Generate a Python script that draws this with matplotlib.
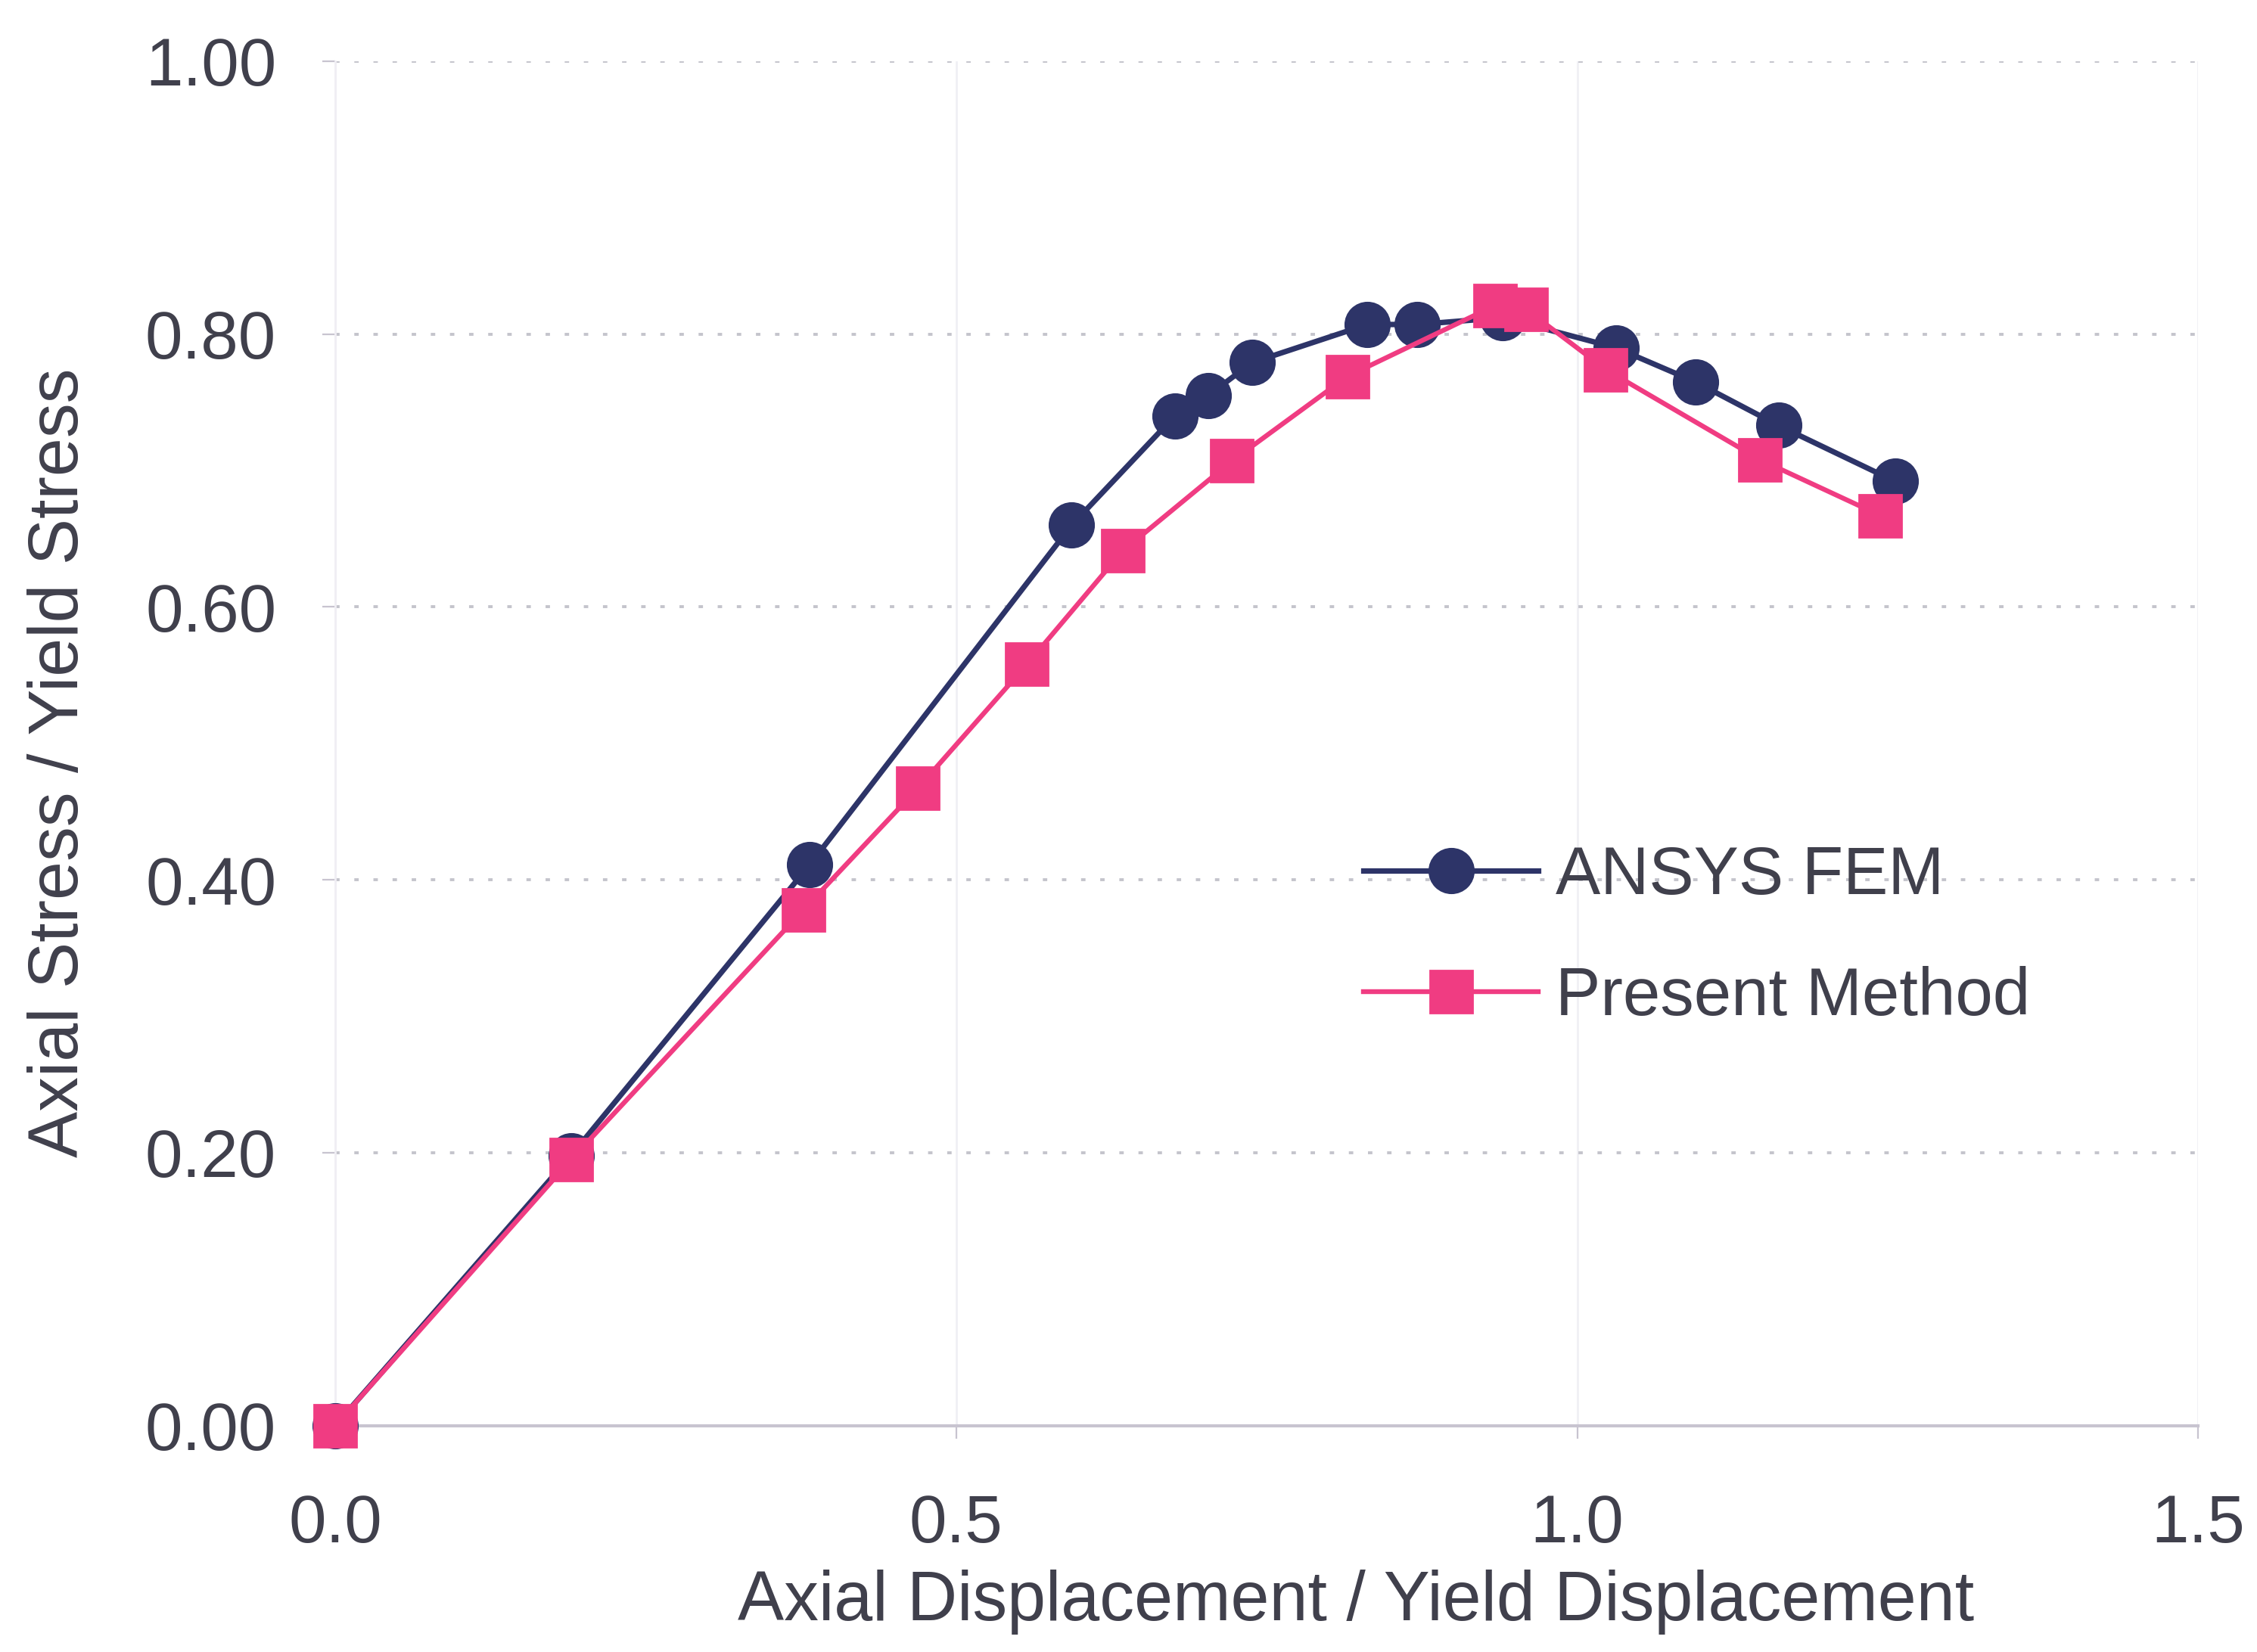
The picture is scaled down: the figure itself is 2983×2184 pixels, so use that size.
import matplotlib.pyplot as plt
import numpy as np

plt.rcParams['font.family'] = ['Liberation Sans', 'DejaVu Sans']

# ANSYS FEM
ansys_x = [0.0, 0.190, 0.382, 0.593, 0.676, 0.703, 0.738, 0.831, 0.871, 0.940, 1.031, 1.095, 1.162, 1.256]
ansys_y = [0.0, 0.198, 0.411, 0.660, 0.740, 0.755, 0.779, 0.807, 0.807, 0.812, 0.790, 0.765, 0.733, 0.692]

# Present Method
pm_x = [0.0, 0.190, 0.377, 0.469, 0.557, 0.634, 0.722, 0.815, 0.934, 0.959, 1.023, 1.147, 1.244]
pm_y = [0.0, 0.195, 0.378, 0.467, 0.558, 0.641, 0.707, 0.769, 0.821, 0.818, 0.774, 0.708, 0.667]

x_ticks = [0.0, 0.5, 1.0, 1.5]
y_ticks = [0.0, 0.2, 0.4, 0.6, 0.8, 1.0]

txt = '#40404c'
blue = '#2d3468'
pink = '#f03c82'

fig = plt.figure(figsize=(14.915, 10.92), dpi=200)
ax = fig.add_axes([0.1485, 0.137, 0.8255, 0.826])

ax.plot(ansys_x, ansys_y, color=blue, lw=2.6, marker='o', ms=21, label='ANSYS FEM',
        zorder=3, clip_on=False)
ax.plot(pm_x, pm_y, color=pink, lw=2.3, marker='s', ms=20, label='Present Method',
        zorder=4, clip_on=False)

ax.set_xlim(0, 1.5)
ax.set_ylim(0, 1.0)
ax.set_xticks(x_ticks)
ax.set_yticks(y_ticks)
ax.set_xticklabels([f'{v:.1f}' for v in x_ticks])
ax.set_yticklabels([f'{v:.2f}' for v in y_ticks])

for s in ['top', 'right']:
    ax.spines[s].set_visible(False)
ax.spines['bottom'].set_color('#c8c4d0')
ax.spines['bottom'].set_linewidth(1.5)
ax.spines['left'].set_color('#f0eef4')
ax.spines['left'].set_linewidth(1.0)

ax.yaxis.grid(True, color='#c4c4cc', linestyle=(0, (1.5, 5)), linewidth=1.4)
ax.xaxis.grid(True, color='#f0f0f4', linestyle='-', linewidth=1.0)
ax.set_axisbelow(True)

ax.tick_params(axis='both', length=6, color='#c8c4d0', labelsize=32, labelcolor=txt)
ax.tick_params(axis='x', pad=26)
ax.tick_params(axis='y', pad=22)

ax.set_xlabel('Axial Displacement / Yield Displacement', fontsize=33, color=txt, va='center')
ax.xaxis.set_label_coords(0.548, -0.129)
ax.set_ylabel('Axial Stress / Yield Stress', fontsize=33, color=txt, va='center')
ax.yaxis.set_label_coords(-0.148, 0.486)

ax.legend(loc='center left', bbox_to_anchor=(0.5195, 0.358), frameon=False, fontsize=32,
          handlelength=2.6, handletextpad=0.25, labelspacing=0.85, labelcolor=txt)

fig.savefig('out.png', dpi=200)
